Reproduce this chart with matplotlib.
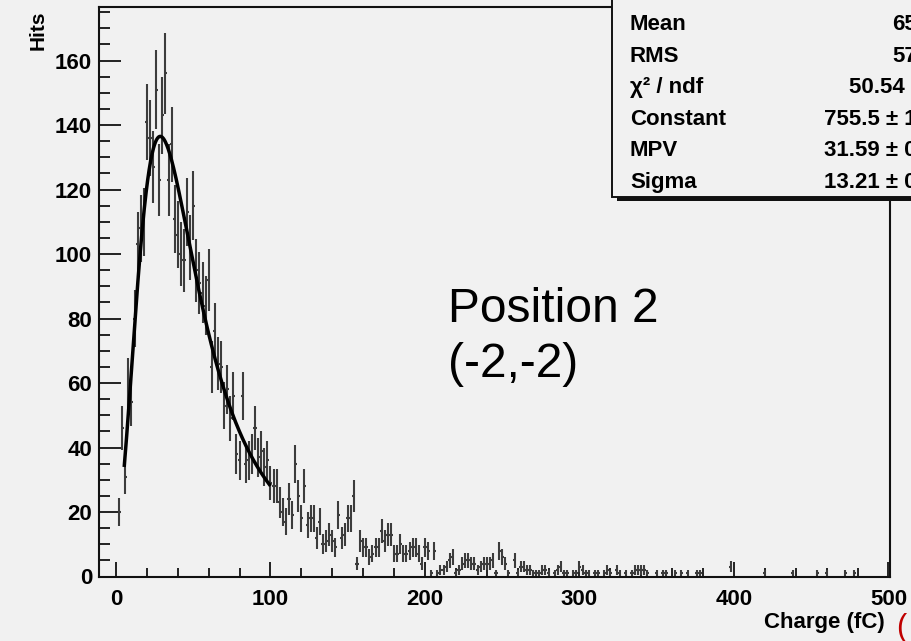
import numpy as np
import matplotlib
matplotlib.use("Agg")
import matplotlib.pyplot as plt
from matplotlib.patches import Rectangle
from matplotlib.ticker import MultipleLocator

# ---- histogram: charge spectrum, 2 fC bins centred at 2, 4, ..., 500 fC ----
BIN_WIDTH = 2.0
X_RANGE = (-11.0, 501.0)
Y_RANGE = (0.0, 176.6)
first_center = 2.0
counts = [
    20, 46, 31, 60, 54, 80, 103, 108, 110, 141,     # 2-20
    136, 127, 151, 123, 143, 156, 123, 134, 111, 106,  # 22-40
    100, 98, 113, 102, 115, 95, 91, 88, 84, 92,     # 42-60
    65, 76, 66, 65, 53, 58, 49, 56, 38, 36,         # 62-80
    56, 35, 36, 38, 46, 37, 39, 34, 36, 29,         # 82-100
    28, 28, 23, 20, 17, 24, 19, 35, 25, 18,         # 102-120
    28, 16, 18, 18, 12, 17, 10, 11, 13, 11,         # 122-140
    9, 19, 12, 13, 18, 18, 25, 4, 11, 9,            # 142-160
    9, 6, 7, 9, 9, 14, 11, 13, 13, 7,               # 162-180
    7, 10, 7, 7, 8, 9, 9, 7, 4, 9,                  # 182-200
    8, 1, 8, 1, 2, 2, 3, 5, 6, 1,                   # 202-220
    2, 4, 5, 5, 4, 4, 2, 3, 4, 4,                   # 222-240
    4, 5, 1, 8, 6, 4, 1, 0, 5, 1,                   # 242-260
    3, 3, 2, 2, 1, 1, 1, 2, 2, 1,                   # 262-280
    0, 1, 2, 3, 1, 1, 0, 1, 1, 3,                   # 282-300
    2, 1, 1, 0, 1, 1, 0, 1, 2, 1,                   # 302-320
    0, 2, 1, 0, 1, 0, 1, 2, 2, 2,                   # 322-340
    2, 1, 0, 0, 1, 0, 1, 1, 0, 0,                   # 342-360
    1, 0, 1, 0, 1, 0, 0, 1, 1, 0,                   # 362-380
    0, 0, 0, 0, 0, 0, 0, 0, 3, 0,                   # 382-400
    0, 0, 0, 0, 0, 0, 0, 0, 0, 1,                   # 402-420
    0, 0, 0, 0, 0, 0, 0, 0, 1, 0,                   # 422-440
    0, 0, 0, 0, 0, 0, 1, 0, 0, 1,                   # 442-460
    0, 0, 0, 0, 0, 1, 0, 0, 1, 0,                   # 462-480
    0, 0, 0, 0, 0, 0, 0, 0, 0, 0,                   # 482-500
]

# ---- Landau fit result ----
fit_constant = 755.5
fit_mpv = 31.59
fit_sigma = 13.21
fit_range = (5.3, 100.0)

# ---- statistics box text ----
stat_labels = ["Entries", "Mean", "RMS", "\u03c7\u00b2 / ndf", "Constant", "MPV", "Sigma"]
stat_values = ["4823", "65.41", "57.62", "50.54 / 44",
               "755.5 \u00b1 12.3", "31.59 \u00b1 0.39", "13.21 \u00b1 0.26"]

x_label = "Charge (fC)"
y_label = "Hits"
note_lines = ["Position 2", "(-2,-2)"]

BG = "#f1f1f1"
FONT = "Liberation Sans"
W, H = 912, 641


def fx(px):
    return px / W


def fy(py):
    return 1.0 - py / H


def landau(lam):
    """Landau density (ROOT convention) by direct numerical integration."""
    t = np.linspace(1e-9, 40.0, 40001)
    lam = np.atleast_1d(lam)[:, None]
    integrand = np.exp(-t * np.log(t) - lam * t) * np.sin(np.pi * t)
    return np.trapezoid(integrand, t, axis=1) / np.pi


fig = plt.figure(figsize=(W / 100, H / 100), dpi=100, facecolor=BG)
ax = fig.add_axes([fx(99), fy(576.5), fx(890) - fx(99), fy(7) - fy(576.5)])
ax.set_facecolor(BG)

# data points with Poisson errors
y = np.array(counts, dtype=float)
x = first_center + BIN_WIDTH * np.arange(len(y))
filled = y > 0
ax.errorbar(x[filled], y[filled], yerr=np.sqrt(y[filled]), xerr=BIN_WIDTH / 2,
            fmt="none", ecolor="#3c3c3c", elinewidth=1.5, capsize=0, zorder=2)

# Landau fit curve
xf = np.linspace(fit_range[0], fit_range[1], 300)
yf = fit_constant * landau((xf - fit_mpv) / fit_sigma)
ax.plot(xf, yf, color="black", lw=2.5, zorder=3, solid_capstyle="butt")

ax.set_xlim(*X_RANGE)
ax.set_ylim(*Y_RANGE)
ax.xaxis.set_major_locator(MultipleLocator(100))
ax.xaxis.set_minor_locator(MultipleLocator(20))
ax.yaxis.set_major_locator(MultipleLocator(20))
ax.yaxis.set_minor_locator(MultipleLocator(5))
ax.tick_params(which="both", direction="in", top=False, right=False,
               color="#222222", width=1.4)
ax.tick_params(axis="x", which="major", length=11, pad=9)
ax.tick_params(axis="x", which="minor", length=6.5)
ax.tick_params(axis="y", which="major", length=16, pad=5)
ax.tick_params(axis="y", which="minor", length=8)
for lab in ax.get_xticklabels() + ax.get_yticklabels():
    lab.set_fontfamily(FONT)
    lab.set_fontweight("bold")
    lab.set_fontsize(16)
for sp in ax.spines.values():
    sp.set_color("#111111")
    sp.set_linewidth(1.5)

# axis titles
fig.text(fx(38), fy(10), y_label, rotation=90, ha="center", va="top",
         family=FONT, weight="bold", fontsize=15)
fig.text(fx(885), fy(628), x_label, ha="right", va="baseline",
         family=FONT, weight="bold", fontsize=16)

# annotation
fig.text(fx(448), fy(322), note_lines[0], ha="left", va="baseline",
         family=FONT, fontsize=34.5)
fig.text(fx(448), fy(377), note_lines[1], ha="left", va="baseline",
         family=FONT, fontsize=34.5)
fig.text(fx(896), fy(636), "(", ha="left", va="baseline",
         family=FONT, fontsize=22, color="#c00000")

# statistics box with drop shadow
shadow = Rectangle((fx(617), fy(201)), fx(1000) - fx(617), fy(-20) - fy(201),
                   transform=fig.transFigure, facecolor="#111111",
                   edgecolor="none", zorder=5)
box = Rectangle((fx(612), fy(197)), fx(1000) - fx(612), fy(-20) - fy(197),
                transform=fig.transFigure, facecolor=BG,
                edgecolor="#111111", lw=1.4, zorder=6)
fig.add_artist(shadow)
fig.add_artist(box)
for i, (lab, val) in enumerate(zip(stat_labels, stat_values)):
    yc = -7 + 31.6 * i
    fig.text(fx(630), fy(yc), lab, ha="left", va="center", family=FONT,
             weight="bold", fontsize=16, zorder=7)
    fig.text(fx(948), fy(yc), val, ha="right", va="center", family=FONT,
             weight="bold", fontsize=16, zorder=7)

fig.savefig("out.png", dpi=100, facecolor=BG)
